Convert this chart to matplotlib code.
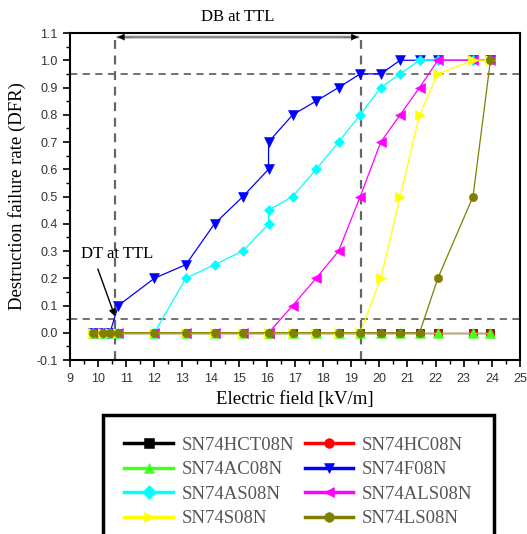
import matplotlib
matplotlib.use("Agg")
from matplotlib import pyplot as plt
from matplotlib.ticker import MultipleLocator

plt.rcParams['font.family'] = ['Liberation Serif', 'DejaVu Serif']

# electric field steps [kV/m] (16.06 appears twice in the measurement)
field = [9.83, 10.19, 10.42, 10.72, 12.0, 13.12, 14.14, 15.15, 16.06, 16.06,
         16.92, 17.75, 18.55, 19.32, 20.05, 20.74, 21.43, 22.08, 23.33, 23.95]

names = ["SN74HCT08N", "SN74HC08N", "SN74AC08N", "SN74F08N",
         "SN74AS08N", "SN74ALS08N", "SN74S08N", "SN74LS08N"]

dfr_hct08n = [0] * 20
dfr_hc08n = [0] * 20
dfr_ac08n = [0] * 20
dfr_f08n = [0, 0, 0, 0.1, 0.2, 0.25, 0.4, 0.5, 0.6, 0.7,
            0.8, 0.85, 0.9, 0.95, 0.95, 1, 1, 1, 1, 1]
dfr_as08n = [0, 0, 0, 0, 0, 0.2, 0.25, 0.3, 0.4, 0.45,
             0.5, 0.6, 0.7, 0.8, 0.9, 0.95, 1, 1, 1, 1]
dfr_als08n = [0, 0, 0, 0, 0, 0, 0, 0, 0, 0,
              0.1, 0.2, 0.3, 0.5, 0.7, 0.8, 0.9, 1, 1, 1]
dfr_s08n = [0, 0, 0, 0, 0, 0, 0, 0, 0, 0,
            0, 0, 0, 0, 0.2, 0.5, 0.8, 0.95, 1, 1]
dfr_ls08n = [0, 0, 0, 0, 0, 0, 0, 0, 0, 0,
             0, 0, 0, 0, 0, 0, 0, 0.2, 0.5, 1.0]

series = [dfr_hct08n, dfr_hc08n, dfr_ac08n, dfr_f08n,
          dfr_as08n, dfr_als08n, dfr_s08n, dfr_ls08n]
colors = ["black", "red", "#44ff22", "blue", "cyan", "magenta", "yellow", "#808000"]
markers = ["s", "o", "^", "v", "D", "<", ">", "o"]
msizes = [6, 6, 6.5, 6.5, 5, 6.5, 6.5, 6]

dt_ttl = 10.6   # destruction threshold at TTL level
db_ttl = 19.34  # destruction boundary at TTL level

fig = plt.figure(figsize=(5.27, 5.34), dpi=100)
ax = fig.add_axes([0.1328, 0.3258, 0.8539, 0.6124])

lines = []
for y, name, c, m, ms in zip(series, names, colors, markers, msizes):
    ln, = ax.plot(field, y, color=c, marker=m, markersize=ms, lw=0.9,
                  markeredgewidth=0.4, label=name, clip_on=False)
    lines.append(ln)

# threshold guides
for yv in (0.05, 0.95):
    ax.axhline(yv, color="0.4", ls=(0, (4, 3)), lw=1.3, zorder=0)
for xv in (dt_ttl, db_ttl):
    ax.axvline(xv, color="0.4", ls=(0, (4, 3)), lw=1.6, zorder=0)

ax.annotate("", xy=(dt_ttl, 1.085), xytext=(db_ttl, 1.085),
            arrowprops=dict(arrowstyle="-", color="0.55", lw=2))
ax.annotate("", xy=(dt_ttl, 1.085), xytext=(dt_ttl + 0.7, 1.085),
            arrowprops=dict(arrowstyle="-|>", color="black", lw=0.1, mutation_scale=12))
ax.annotate("", xy=(db_ttl, 1.085), xytext=(db_ttl - 0.7, 1.085),
            arrowprops=dict(arrowstyle="-|>", color="black", lw=0.1, mutation_scale=12))
ax.text(14.95, 1.16, "DB at TTL", ha="center", va="center", fontsize=12, clip_on=False)

ax.text(9.38, 0.29, "DT at TTL", ha="left", va="center", fontsize=12)
ax.annotate("", xy=(dt_ttl, 0.06), xytext=(9.99, 0.234),
            arrowprops=dict(arrowstyle="-|>", color="black", lw=1,
                            shrinkA=0, shrinkB=0, mutation_scale=10))

ax.set_xlim(9, 25)
ax.set_ylim(-0.1, 1.1)
ax.xaxis.set_major_locator(MultipleLocator(1))
ax.xaxis.set_minor_locator(MultipleLocator(0.5))
ax.yaxis.set_minor_locator(MultipleLocator(0.05))
ax.set_yticks([round(-0.1 + 0.1 * i, 1) for i in range(13)])
ax.set_yticklabels([f"{-0.1 + 0.1 * i:.1f}" for i in range(13)])
ax.tick_params(which="major", direction="out", length=5, width=1.2,
               labelsize=9, labelcolor="#333333", pad=4)
ax.tick_params(which="minor", direction="out", length=3, width=1.0)
for lbl in ax.get_xticklabels() + ax.get_yticklabels():
    lbl.set_family("Liberation Sans")
for s in ax.spines.values():
    s.set_linewidth(1.5)

ax.set_xlabel("Electric field [kV/m]", fontsize=13.5, labelpad=5)
ax.set_ylabel("Destruction failure rate (DFR)", fontsize=13.5, labelpad=7)

# legend fills row by row in the reference, matplotlib fills by column
order = [0, 2, 4, 6, 1, 3, 5, 7]
leg = fig.legend([lines[i] for i in order], [names[i] for i in order],
                 loc="upper left", bbox_to_anchor=(0.195, -0.05, 0.742, 0.273),
                 mode="expand", ncol=2, fontsize=13.5, handlelength=2.6,
                 fancybox=False, edgecolor="black", framealpha=1,
                 borderaxespad=0, labelspacing=0.4, borderpad=1.15,
                 handletextpad=0.45)
leg.get_frame().set_linewidth(2.5)
for t in leg.get_texts():
    t.set_color("#555555")
for h in leg.legend_handles:
    h.set_linewidth(2.5)
    h.set_markersize(7)

fig.savefig("out.png", dpi=100)
